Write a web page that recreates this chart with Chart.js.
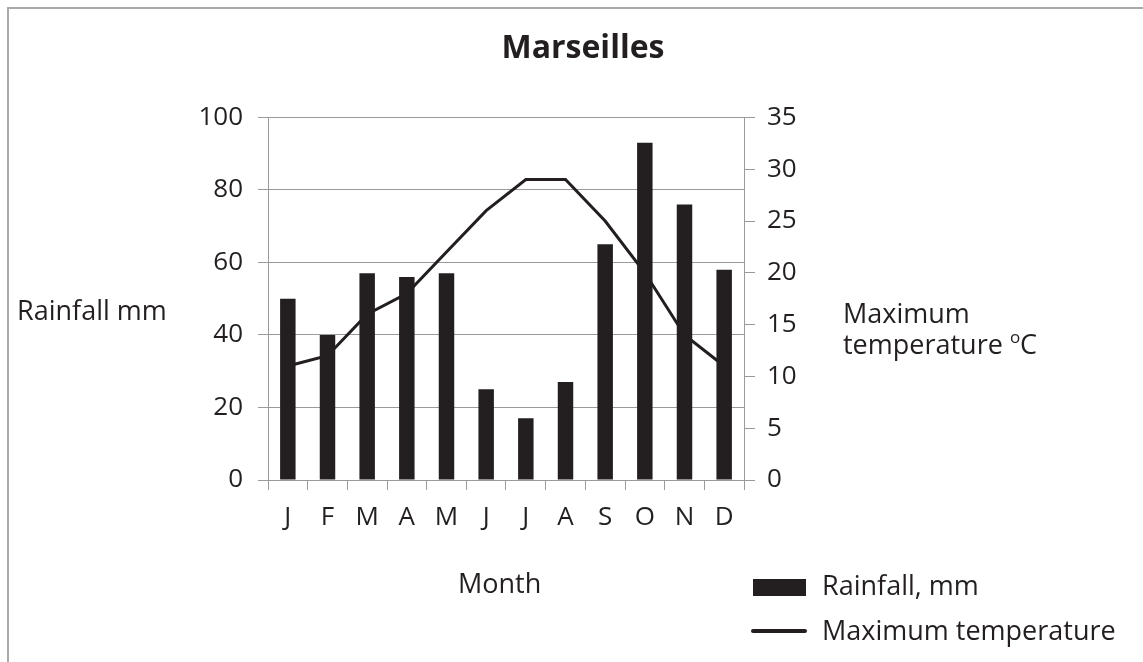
<!DOCTYPE html>
<html>
<head>
<meta charset="utf-8">
<script src="https://cdn.jsdelivr.net/npm/chart.js@4/dist/chart.umd.min.js"></script>
<style>
  html, body { margin: 0; padding: 0; background: #fff; overflow: hidden; }
  #wrap { position: relative; width: 1143px; height: 662px; }
  #frame { position: absolute; left: 7px; top: 7px; width: 1200px; height: 700px;
           border-top: 2px solid #a9a9a9; border-left: 2px solid #a9a9a9; }
  canvas { position: absolute; left: 0; top: 0; }
</style>
</head>
<body>
<div id="wrap">
  <div id="frame"></div>
  <canvas id="chart" width="1143" height="662"></canvas>
</div>
<script>
const months = ['J', 'F', 'M', 'A', 'M', 'J', 'J', 'A', 'S', 'O', 'N', 'D'];
const rainfall = [50, 40, 57, 56, 57, 25, 17, 27, 65, 93, 76, 58];
const maxTemp = [11, 12, 16, 18, 22, 26, 29, 29, 25, 20, 14, 11];
const rainTicks = [0, 20, 40, 60, 80, 100];
const tempTicks = [0, 5, 10, 15, 20, 25, 30, 35];

const ink = '#231f20';
const gridGrey = '#9a9a9a';

Chart.defaults.font.family = "'Open Sans', sans-serif";
Chart.defaults.color = ink;

// axis titles and legend are plain horizontal text, so draw them ourselves
const extraText = {
    id: 'extraText',
    afterDraw(chart) {
        const ctx = chart.ctx;
        ctx.save();
        ctx.fillStyle = ink;
        ctx.textBaseline = 'alphabetic';
        ctx.font = "27px 'Open Sans'";
        ctx.fillText('Rainfall mm', 17, 320);
        ctx.fillText('Maximum', 843, 323);
        ctx.fillText('temperature ', 843, 354);
        let x = 843 + ctx.measureText('temperature ').width;
        ctx.font = "17px 'Open Sans'";
        ctx.fillText('o', x, 343);
        x += ctx.measureText('o').width;
        ctx.font = "27px 'Open Sans'";
        ctx.fillText('C', x, 354);
        ctx.fillText('Month', 458, 593);

        const ds = chart.data.datasets;
        ctx.fillStyle = ds[0].backgroundColor;
        ctx.fillRect(753, 579, 53, 17);
        ctx.strokeStyle = ds[1].borderColor;
        ctx.lineWidth = 4;
        ctx.lineCap = 'round';
        ctx.beginPath();
        ctx.moveTo(753, 631);
        ctx.lineTo(805, 631);
        ctx.stroke();
        ctx.fillStyle = ink;
        ctx.fillText(ds[0].label, 822, 595);
        ctx.fillText(ds[1].label, 822, 640);
        ctx.restore();
    }
};

new Chart(document.getElementById('chart'), {
    type: 'bar',
    data: {
        labels: months,
        datasets: [
            {
                type: 'bar',
                label: 'Rainfall, mm',
                data: rainfall,
                backgroundColor: ink,
                borderWidth: 0,
                barPercentage: 0.39,
                categoryPercentage: 1,
                yAxisID: 'y',
                order: 1
            },
            {
                type: 'line',
                label: 'Maximum temperature',
                data: maxTemp,
                borderColor: ink,
                borderWidth: 3,
                pointRadius: 0,
                tension: 0,
                fill: false,
                yAxisID: 'y1',
                order: 2
            }
        ]
    },
    options: {
        responsive: false,
        animation: false,
        layout: { padding: { left: 23, right: 0, top: 0, bottom: 0 } },
        plugins: {
            legend: { display: false },
            tooltip: { enabled: false },
            title: {
                display: true,
                text: 'Marseilles',
                color: ink,
                font: { size: 32, weight: 'bold' },
                padding: { top: 30, bottom: 49 }
            }
        },
        scales: {
            x: {
                grid: { display: true, drawOnChartArea: false, offset: true, tickLength: 10, color: gridGrey },
                border: { color: gridGrey },
                ticks: { font: { size: 26 }, padding: 12, color: ink },
                afterFit(scale) { scale.height = 182; }
            },
            y: {
                position: 'left',
                min: 0,
                max: 100,
                afterBuildTicks(scale) { scale.ticks = rainTicks.map(v => ({ value: v })); },
                grid: { color: gridGrey, tickLength: 10 },
                border: { color: gridGrey },
                ticks: { font: { size: 26 }, padding: 15, color: ink },
                afterFit(scale) { scale.width = 245; }
            },
            y1: {
                position: 'right',
                min: 0,
                max: 35,
                afterBuildTicks(scale) { scale.ticks = tempTicks.map(v => ({ value: v })); },
                grid: { drawOnChartArea: false, color: gridGrey, tickLength: 11 },
                border: { color: gridGrey },
                ticks: { font: { size: 26 }, padding: 12, color: ink },
                afterFit(scale) { scale.width = 399; }
            }
        }
    },
    plugins: [extraText]
});
</script>
</body>
</html>
